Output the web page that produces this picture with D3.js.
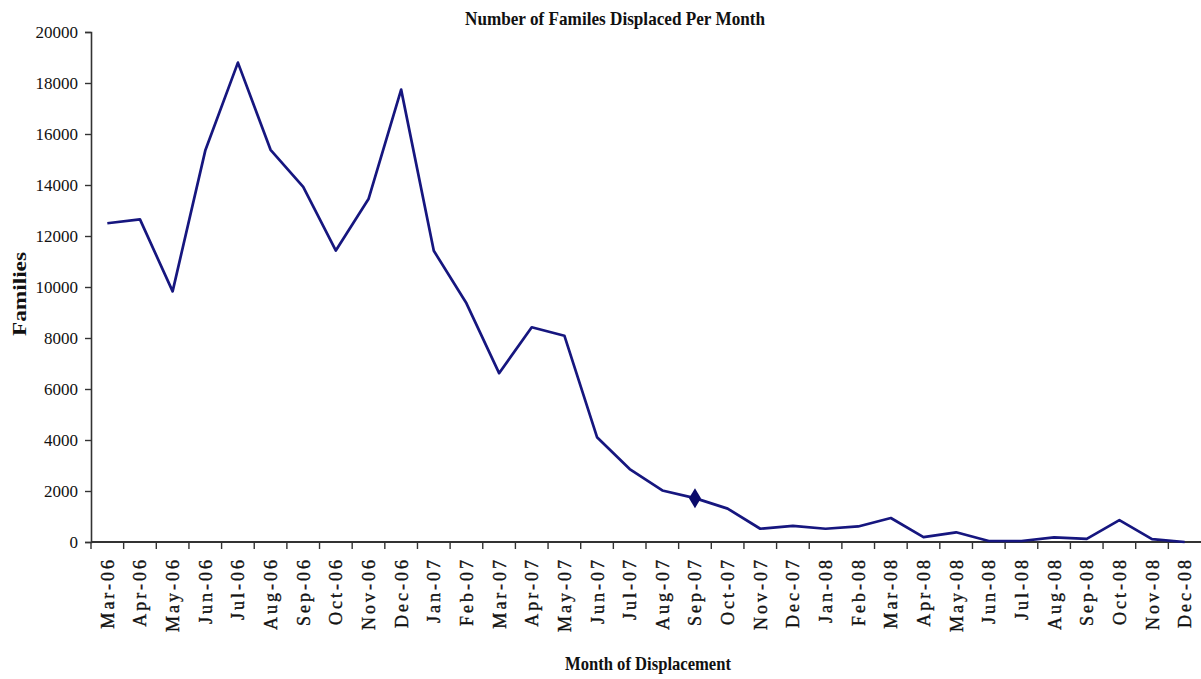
<!DOCTYPE html>
<html>
<head>
<meta charset="utf-8">
<script src="https://cdn.jsdelivr.net/npm/d3@7/dist/d3.min.js"></script>
<style>
  body { margin: 0; background: #fff; }
  text { font-family: "Liberation Serif", "Times New Roman", serif; fill: #111; }
</style>
</head>
<body>
<script>

// data
var months = ["Mar-06","Apr-06","May-06","Jun-06","Jul-06","Aug-06","Sep-06","Oct-06","Nov-06","Dec-06",
              "Jan-07","Feb-07","Mar-07","Apr-07","May-07","Jun-07","Jul-07","Aug-07","Sep-07","Oct-07","Nov-07","Dec-07",
              "Jan-08","Feb-08","Mar-08","Apr-08","May-08","Jun-08","Jul-08","Aug-08","Sep-08","Oct-08","Nov-08","Dec-08"];

var families = [12500, 12650, 9830, 15350, 18800, 15380, 13930, 11430, 13450, 17740,
                11420, 9360, 6620, 8420, 8090, 4110, 2860, 2020, 1720, 1310, 520, 630,
                520, 610, 940, 190, 380, 40, 40, 180, 120, 860, 110, 0];

var yTicks = [0, 2000, 4000, 6000, 8000, 10000, 12000, 14000, 16000, 18000, 20000];

var markedMonth = "Sep-07";

var width = 1201,
    height = 679,
    plotLeft = 91,
    plotRight = 1201,
    plotTop = 32,
    plotBottom = 542,
    lineColor = "#16167f";

var svg = d3.select("body").append("svg")
            .attr("width", width)
            .attr("height", height);

var x = d3.scaleBand()
          .domain(months)
          .range([plotLeft, plotRight])
          .padding(0);

var y = d3.scaleLinear()
          .domain([0, 20000])
          .range([plotBottom, plotTop]);

var cx = function (m) { return x(m) + x.bandwidth() / 2; };

// y axis
var yAxis = svg.append("g")
               .attr("transform", "translate(" + plotLeft + ",0)")
               .call(d3.axisLeft(y).tickValues(yTicks).tickSize(6).tickPadding(7).tickFormat(d3.format("d")));
yAxis.select(".domain").attr("stroke", "#333").attr("stroke-width", 1.6);
yAxis.selectAll(".tick line").attr("stroke", "#333").attr("stroke-width", 1.4);
yAxis.selectAll(".tick text")
     .style("font-family", "'Liberation Serif', serif")
     .style("font-size", "17px")
     .attr("fill", "#111");

// x axis, ticks between categories
var xAxis = svg.append("g")
               .attr("transform", "translate(0," + plotBottom + ")");
xAxis.append("line")
     .attr("x1", plotLeft).attr("x2", plotRight)
     .attr("stroke", "#333").attr("stroke-width", 2);
xAxis.selectAll("line.tick")
     .data(months)
     .enter().append("line")
     .attr("class", "tick")
     .attr("x1", function (d) { return x(d); })
     .attr("x2", function (d) { return x(d); })
     .attr("y1", 0).attr("y2", 7)
     .attr("stroke", "#333").attr("stroke-width", 1.4);
xAxis.selectAll("text.lab")
     .data(months)
     .enter().append("text")
     .attr("class", "lab")
     .attr("transform", function (d) { return "translate(" + cx(d) + ",15) rotate(-90)"; })
     .attr("text-anchor", "end")
     .attr("dy", "0.36em")
     .style("font-size", "18px")
     .style("letter-spacing", "3px")
     .attr("stroke", "#111")
     .attr("stroke-width", 0.35)
     .text(function (d) { return d; });

// line
var line = d3.line()
             .x(function (d, i) { return cx(months[i]); })
             .y(function (d) { return y(d); });

svg.append("path")
   .datum(families)
   .attr("d", line)
   .attr("fill", "none")
   .attr("stroke", lineColor)
   .attr("stroke-width", 2.7)
   .attr("stroke-linejoin", "round");

// single diamond marker
var mi = months.indexOf(markedMonth);
svg.append("path")
   .attr("d", "M0,-10 L6,0 L0,10 L-6,0 Z")
   .attr("transform", "translate(" + cx(markedMonth) + "," + y(families[mi]) + ")")
   .attr("fill", "#0b0b6a");

// titles, condensed like the original
var fit = function (sel, len) {
  sel.attr("textLength", len).attr("lengthAdjust", "spacingAndGlyphs");
};

svg.append("text")
   .attr("x", 615).attr("y", 25)
   .attr("text-anchor", "middle")
   .style("font-size", "19px").style("font-weight", "bold")
   .text("Number of Familes Displaced Per Month")
   .call(fit, 300);

svg.append("text")
   .attr("x", 648).attr("y", 670)
   .attr("text-anchor", "middle")
   .style("font-size", "19px").style("font-weight", "bold")
   .text("Month of Displacement")
   .call(fit, 166);

svg.append("text")
   .attr("transform", "translate(26,294) rotate(-90)")
   .attr("text-anchor", "middle")
   .style("font-size", "19px").style("font-weight", "bold")
   .text("Families")
   .call(fit, 84);

</script>
</body>
</html>
